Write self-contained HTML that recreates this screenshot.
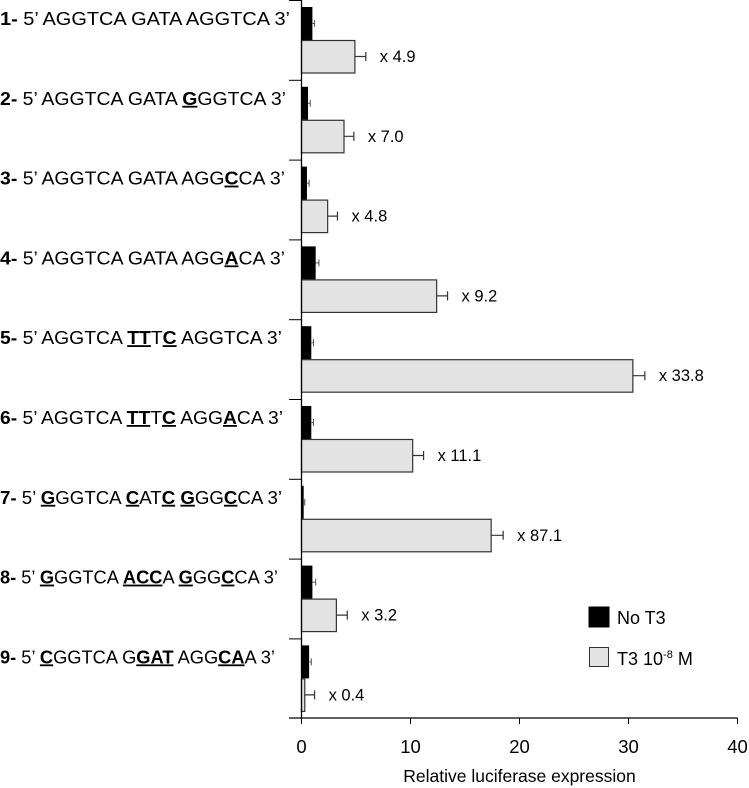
<!DOCTYPE html>
<html><head><meta charset="utf-8"><style>
body{margin:0;background:#fff;}
svg{display:block;font-family:"Liberation Sans",Arial,sans-serif;}
</style></head><body>
<svg id="chart" width="749" height="788" viewBox="0 0 749 788">
<g id="labels"></g>
<g id="bars"></g>
<g id="axis"></g>
<g>
 <rect x="589" y="607" width="20" height="20" fill="#000" stroke="#000"/>
 <text x="617" y="624" font-size="18">No T3</text>
 <rect x="589.5" y="647.5" width="19" height="19" fill="#e3e3e3" stroke="#333"/>
 <text x="617" y="665" font-size="18">T3 10<tspan dy="-7" font-size="11">-8</tspan><tspan dy="7"> M</tspan></text>
</g>
</svg>
<script>
const categories=[1,2,3,4,5,6,7,8,9];
const noT3=[1.0,0.6,0.5,1.3,0.9,0.9,0.2,1.0,0.7];
const noT3Err=[0.2,0.2,0.2,0.3,0.2,0.2,0.1,0.3,0.2];
const t3=[4.9,3.9,2.4,12.4,30.4,10.2,17.4,3.2,0.3];
const t3Err=[1.0,0.9,0.9,1.0,1.1,1.0,1.1,1.0,0.9];
const foldLabels=["x 4.9","x 7.0","x 4.8","x 9.2","x 33.8","x 11.1","x 87.1","x 3.2","x 0.4"];
const xTicks=[0,10,20,30,40];
const seqs=[
 [["5\u2019 AGGTCA GATA AGGTCA 3\u2019",0]],
 [["5\u2019 AGGTCA GATA ",0],["G",1],["GGTCA 3\u2019",0]],
 [["5\u2019 AGGTCA GATA AGG",0],["C",1],["CA 3\u2019",0]],
 [["5\u2019 AGGTCA GATA AGG",0],["A",1],["CA 3\u2019",0]],
 [["5\u2019 AGGTCA ",0],["TT",1],["T",0],["C",1],[" AGGTCA 3\u2019",0]],
 [["5\u2019 AGGTCA ",0],["TT",1],["T",0],["C",1],[" AGG",0],["A",1],["CA 3\u2019",0]],
 [["5\u2019 ",0],["G",1],["GGTCA ",0],["C",1],["AT",0],["C",1],[" ",0],["G",1],["GG",0],["C",1],["CA 3\u2019",0]],
 [["5\u2019 ",0],["G",1],["GGTCA ",0],["ACC",1],["A ",0],["G",1],["GG",0],["C",1],["CA 3\u2019",0]],
 [["5\u2019  ",0],["C",1],["GGTCA G",0],["GAT",1],[" AGG",0],["CA",1],["A 3\u2019",0]]
];
const lineEnds=[290,286,285,285,282,283,282,278,275];
const NS="http://www.w3.org/2000/svg";
const x0=301.5, pxPer=10.9, top0=0, gH=79.8;
const xs=v=>x0+v*pxPer;
function mk(tag,attrs,parent){const e=document.createElementNS(NS,tag);for(const k in attrs)e.setAttribute(k,attrs[k]);parent.appendChild(e);return e;}
const bars=document.getElementById('bars'),labels=document.getElementById('labels'),axis=document.getElementById('axis');
categories.forEach((c,i)=>{
 const gt=top0+i*gH;
 const b=mk('rect',{x:x0,y:gt+7,width:Math.max(1,xs(noT3[i])-x0),height:33,fill:'#000'},bars);
 
 
 const e1=mk('path',{d:`M${xs(noT3[i])},${gt+23.5}H${xs(noT3[i]+noT3Err[i])}M${xs(noT3[i]+noT3Err[i])},${gt+20}v7`,stroke:'#555','stroke-width':1,fill:'none'},bars);
 
 
 const g=mk('rect',{x:x0,y:gt+40.5,width:Math.max(1,xs(t3[i])-x0),height:32.5,fill:'#e3e3e3',stroke:'#333','stroke-width':1.2},bars);
 
 
 const ee=xs(t3[i]+t3Err[i]);
 const e2=mk('path',{d:`M${xs(t3[i])},${gt+56.5}H${ee}M${ee},${gt+52}v9`,stroke:'#333','stroke-width':1.2,fill:'none'},bars);
 
 
 const fl=mk('text',{x:ee+14,y:gt+62,'font-size':16.5},bars);
 fl.textContent=foldLabels[i];
 
 
 const t=mk('text',{x:0,y:gt+25,'font-size':18,textLength:lineEnds[i],lengthAdjust:'spacingAndGlyphs'},labels);
 
 
 const n=mk('tspan',{'font-weight':'bold'},t);n.textContent=c+'- ';
 seqs[i].forEach(s=>{const ts=mk('tspan',s[1]?{'font-weight':'bold','text-decoration':'underline'}:{},t);ts.textContent=s[0];});
 const tk=mk('line',{x1:289,x2:x0,y1:gt+0.5,y2:gt+0.5,stroke:'#000'},axis);
 
 
});
const yb=718;
const ya=mk('line',{x1:x0,x2:x0,y1:0,y2:yb,stroke:'#000','stroke-width':1.3},axis);


const xa=mk('line',{x1:289,x2:xs(40),y1:yb,y2:yb,stroke:'#000','stroke-width':1.3},axis);


xTicks.forEach(v=>{
 const l=mk('line',{x1:xs(v),x2:xs(v),y1:yb,y2:yb+6,stroke:'#000'},axis);
 
 
 const t=mk('text',{x:xs(v),y:yb+35,'font-size':18.5,'text-anchor':'middle'},axis);
 t.textContent=v;
 
 
});
const tt=mk('text',{x:xs(20),y:782,'font-size':17.5,'text-anchor':'middle'},axis);
tt.textContent='Relative luciferase expression';


</script>
</body></html>
